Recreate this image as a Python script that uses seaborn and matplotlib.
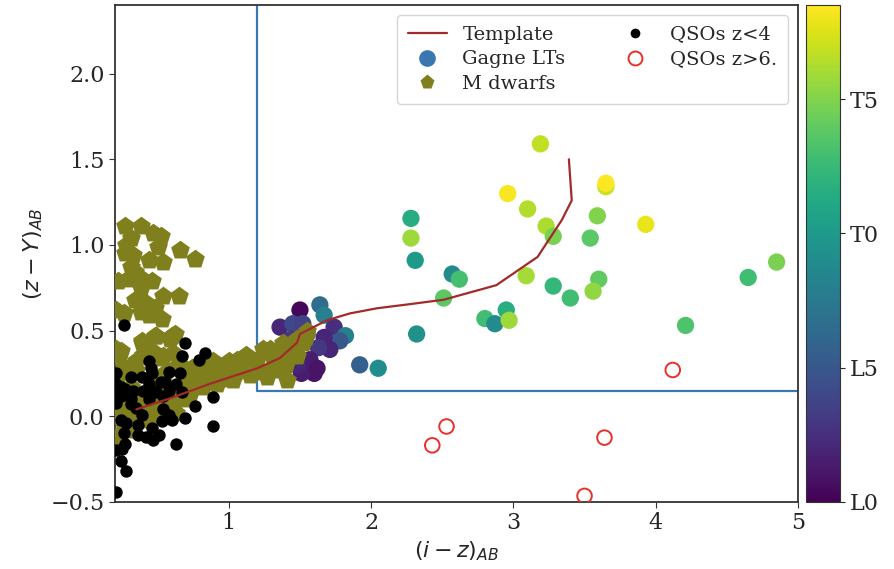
import numpy as np
import pandas as pd
import matplotlib
matplotlib.use("Agg")
import matplotlib.pyplot as plt
from matplotlib.lines import Line2D
import seaborn as sns

# template track
template_iz = [0.35, 0.59, 0.87, 1.20, 1.36, 1.48, 1.50, 1.69, 1.85, 2.04, 2.28, 2.51, 2.88, 3.17, 3.34, 3.41, 3.39]
template_zy = [0.04, 0.105, 0.19, 0.28, 0.34, 0.43, 0.48, 0.56, 0.60, 0.63, 0.655, 0.68, 0.765, 0.93, 1.145, 1.26, 1.50]

# Gagne L/T dwarfs, spectral type: 0 = L0, 10 = T0
gagne_iz = [3.19, 2.96, 3.10, 3.23, 3.28, 2.28, 2.28, 2.31, 2.57, 2.62, 2.51, 2.32, 3.09, 3.28, 3.40,
            2.80, 2.87, 2.95, 2.97, 3.59, 3.54, 3.60, 3.56, 3.65, 3.65, 3.93, 4.65, 4.85, 4.21,
            1.50, 1.64, 1.67, 1.36, 1.45, 1.52, 1.74, 1.82, 1.78, 1.67, 1.71, 1.63, 1.57, 1.60,
            1.51, 1.48, 1.62, 1.92, 2.05, 1.55, 1.44]
gagne_zy = [1.59, 1.30, 1.21, 1.11, 1.05, 1.155, 1.04, 0.91, 0.83, 0.80, 0.69, 0.48, 0.82, 0.76, 0.69,
            0.57, 0.54, 0.62, 0.56, 1.17, 1.04, 0.80, 0.73, 1.34, 1.36, 1.12, 0.81, 0.90, 0.53,
            0.62, 0.65, 0.59, 0.52, 0.54, 0.54, 0.52, 0.47, 0.44, 0.46, 0.39, 0.40, 0.33, 0.25,
            0.25, 0.30, 0.28, 0.30, 0.28, 0.48, 0.45]
gagne_spt = [16.8, 18.3, 16.4, 16.2, 14.8, 11.5, 15.8, 10.0, 8.8, 13.0, 13.8, 9.3, 16.0, 12.3, 12.8,
             12.8, 8.8, 11.6, 15.8, 15.0, 13.8, 14.0, 15.4, 17.0, 18.4, 17.9, 12.8, 14.8, 13.3,
             0.3, 6.5, 8.0, 2.0, 4.0, 3.5, 2.5, 8.0, 5.0, 2.0, 2.0, 3.0, 1.5, 1.0,
             1.5, 2.0, 1.0, 5.5, 9.0, 3.5, 3.0]

# M dwarfs
mdw_iz = [0.27, 0.38, 0.47, 0.52, 0.50, 0.31, 0.28, 0.27, 0.33, 0.66, 0.76, 0.44, 0.54, 0.31, 0.34,
          0.22, 0.29, 0.39, 0.46, 0.38, 0.54, 0.65, 0.34, 0.42, 0.48, 0.26, 0.38, 0.53, 0.44, 0.21,
          0.62, 0.49, 0.39, 0.59, 0.46, 0.54, 0.40, 0.24, 1.10, 1.24, 1.38, 1.48, 1.54, 1.43, 1.48,
          1.31, 1.36, 1.27, 1.41, 0.39, 0.48, 0.60, 0.44, 0.53, 0.61, 0.22, 0.26, 0.35, 0.74, 0.82,
          0.89, 0.97, 1.06, 1.13, 1.20, 1.29, 1.34, 1.38, 1.27, 1.15, 1.03, 0.92, 0.82, 0.73, 0.73,
          0.63, 0.54, 0.45, 0.38, 0.31, 0.24, 0.26, 0.40, 0.49, 0.63, 0.21, 0.31, 0.21, 0.21, 0.31,
          0.40, 0.52, 0.59, 0.47, 0.21, 0.80, 1.43,
          1.00, 1.05, 0.95, 0.88, 0.80, 0.70, 0.68, 0.58, 0.50, 0.43, 0.35, 0.30, 0.25, 0.22, 0.30,
          0.45, 1.12, 1.18, 1.32, 1.40, 1.47, 1.52, 1.55, 0.55, 0.62, 0.35, 0.66, 0.75, 0.86, 0.57]
mdw_zy = [1.11, 1.11, 1.07, 1.05, 0.99, 1.04, 1.00, 0.95, 0.94, 0.97, 0.92, 0.91, 0.90, 0.87, 0.84,
          0.79, 0.80, 0.80, 0.79, 0.75, 0.70, 0.70, 0.68, 0.66, 0.63, 0.60, 0.61, 0.57, 0.59, 0.62,
          0.48, 0.47, 0.44, 0.45, 0.38, 0.35, 0.36, 0.38, 0.34, 0.39, 0.43, 0.45, 0.46, 0.41, 0.35,
          0.35, 0.27, 0.25, 0.21, 0.43, 0.47, 0.47, 0.36, 0.34, 0.37, 0.36, 0.29, 0.27, 0.28, 0.29,
          0.32, 0.29, 0.33, 0.31, 0.33, 0.39, 0.29, 0.37, 0.23, 0.24, 0.21, 0.19, 0.17, 0.13, 0.22,
          0.10, 0.07, 0.02, 0.06, 0.00, 0.00, -0.06, -0.02, 0.00, 0.02, -0.12, -0.08, 0.04, 0.15, 0.17,
          0.12, 0.12, 0.06, 0.19, 0.39, 0.21, 0.41,
          0.32, 0.26, 0.22, 0.25, 0.23, 0.20, 0.10, 0.15, 0.08, 0.07, 0.10, 0.07, 0.12, 0.23, 0.28,
          0.22, 0.36, 0.26, 0.32, 0.30, 0.38, 0.43, 0.50, 0.25, 0.28, 0.32, 0.30, 0.27, 0.27, 0.05]

# QSOs z<4
qlo_iz = [0.26, 0.69, 0.83, 0.79, 0.67, 0.44, 0.45, 0.58, 0.66, 0.31, 0.39, 0.46, 0.52, 0.44, 0.47,
          0.24, 0.33, 0.40, 0.49, 0.58, 0.67, 0.24, 0.31, 0.44, 0.54, 0.89, 0.76, 0.35, 0.54, 0.58,
          0.69, 0.60, 0.53, 0.24, 0.28, 0.36, 0.89, 0.26, 0.36, 0.42, 0.51, 0.47, 0.63, 0.27, 0.25,
          0.21, 0.24, 0.28, 0.21, 0.21, 0.21, 0.21, 0.21, 0.27, 0.55, 0.63, 0.39, 0.31, 0.46]
qlo_zy = [0.53, 0.43, 0.37, 0.33, 0.35, 0.32, 0.28, 0.26, 0.25, 0.23, 0.23, 0.25, 0.20, 0.19, 0.15,
          0.17, 0.15, 0.15, 0.14, 0.15, 0.14, 0.12, 0.10, 0.10, 0.12, 0.11, 0.06, 0.05, 0.04, 0.01,
          -0.01, -0.02, -0.03, -0.02, -0.04, -0.05, -0.06, -0.10, -0.11, -0.12, -0.11, -0.14, -0.16, -0.16, -0.19,
          -0.20, -0.26, -0.32, -0.44, 0.25, 0.08, 0.15, 0.19, 0.16, 0.20, 0.19, 0.01, 0.07, -0.07]

# QSOs z>6
qhi_iz = [4.12, 2.53, 2.43, 3.64, 3.50]
qhi_zy = [0.27, -0.06, -0.17, -0.125, -0.465]

# colour-cut box
box_x = [1.2, 1.2, 5.0]
box_y = [2.4, 0.15, 0.15]

cbar_ticks = [0, 5, 10, 15]
cbar_labels = ["L0", "L5", "T0", "T5"]

sns.set_style("ticks")
plt.rcParams["font.family"] = ["DejaVu Serif"]
plt.rcParams["mathtext.fontset"] = "dejavusans"

gagne = pd.DataFrame({"iz": gagne_iz, "zy": gagne_zy, "spt": gagne_spt})
mdw = pd.DataFrame({"iz": mdw_iz, "zy": mdw_zy})
qlo = pd.DataFrame({"iz": qlo_iz, "zy": qlo_zy})
qhi = pd.DataFrame({"iz": qhi_iz, "zy": qhi_zy})
tmpl = pd.DataFrame({"iz": template_iz, "zy": template_zy})

fig = plt.figure(figsize=(8.94, 5.69), dpi=100)
ax = fig.add_axes([0.1286, 0.118, 0.764, 0.873])
cax = fig.add_axes([0.9016, 0.118, 0.038, 0.873])

norm = plt.Normalize(0, 18.5)
sns.scatterplot(data=gagne, x="iz", y="zy", hue="spt", palette="viridis", hue_norm=norm,
                s=155, linewidth=0, legend=False, ax=ax, zorder=2)
sns.scatterplot(data=mdw, x="iz", y="zy", color="#7f7f1e", marker="p", s=200,
                linewidth=0, legend=False, ax=ax, zorder=3)
sns.scatterplot(data=qlo, x="iz", y="zy", color="black", s=80, linewidth=0,
                legend=False, ax=ax, zorder=4)
ax.scatter(qhi["iz"], qhi["zy"], s=110, facecolors="none", edgecolors="#e8302a",
           linewidths=1.4, zorder=5)
sns.lineplot(data=tmpl, x="iz", y="zy", sort=False, color="#a32a2a", lw=1.6, ax=ax, zorder=6)
ax.plot(box_x, box_y, color="#3a78b5", lw=1.6, zorder=1)

ax.set_xlim(0.2, 5)
ax.set_ylim(-0.5, 2.4)
ax.set_xticks([1, 2, 3, 4, 5])
ax.set_yticks([-0.5, 0.0, 0.5, 1.0, 1.5, 2.0])
ax.tick_params(labelsize=16, direction="out", length=4, color="#333333")
ax.set_xlabel(r"$(i-z)_{AB}$", fontsize=16)
ax.set_ylabel(r"$(z-Y)_{AB}$", fontsize=16)
for sp in ax.spines.values():
    sp.set_color("#333333")
    sp.set_linewidth(1.3)

sm = plt.cm.ScalarMappable(norm=norm, cmap="viridis")
cb = fig.colorbar(sm, cax=cax)
cb.set_ticks(cbar_ticks)
cb.set_ticklabels(cbar_labels)
cb.ax.tick_params(labelsize=16)
cb.outline.set_color("#333333")

handles = [
    Line2D([], [], color="#a32a2a", lw=1.6),
    Line2D([], [], ls="", marker="o", ms=12, mfc="#3a76af", mec="none"),
    Line2D([], [], ls="", marker="p", ms=11, mfc="#7f7f1e", mec="none"),
    Line2D([], [], ls="", marker="o", ms=7, mfc="black", mec="none"),
    Line2D([], [], ls="", marker="o", ms=10, mfc="none", mec="#e8302a", mew=1.4),
]
labels = ["Template", "Gagne LTs", "M dwarfs", "QSOs z<4", "QSOs z>6."]
ax.legend(handles, labels, loc="upper right", ncol=2, fontsize=14, frameon=True,
          handlelength=2.0, columnspacing=2.6, borderpad=0.55, labelspacing=0.35)

fig.savefig("out.png", dpi=100)
